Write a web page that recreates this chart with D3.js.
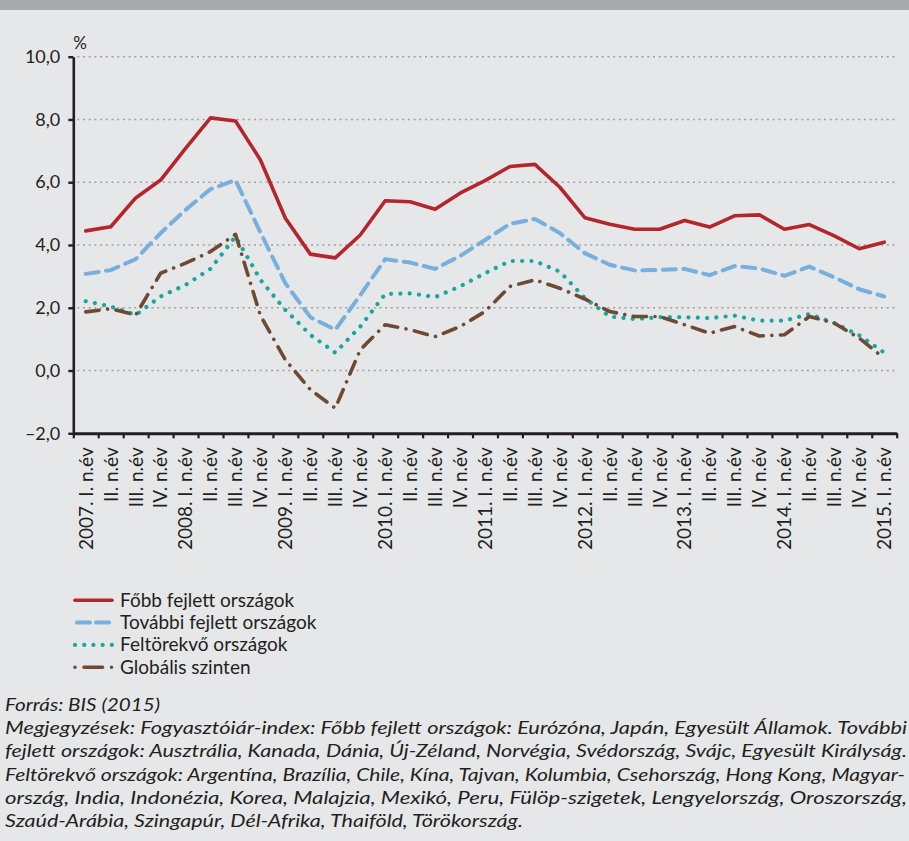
<!DOCTYPE html>
<html>
<head>
<meta charset="utf-8">
<script src="https://cdn.jsdelivr.net/npm/d3@7"></script>
<style>
    body { margin: 0; background: #e6e7e8; }
    svg { display: block; font-family: Lato, "Open Sans", sans-serif; }
</style>
</head>
<body>
<svg id="root" width="909" height="841"></svg>
<script>
const categories = [
    "2007. I. n.év", "II. n.év", "III. n.év", "IV. n.év",
    "2008. I. n.év", "II. n.év ", "III. n.év ", "IV. n.év ",
    "2009. I. n.év", "II. n.év  ", "III. n.év  ", "IV. n.év  ",
    "2010. I. n.év", "II. n.év   ", "III. n.év   ", "IV. n.év   ",
    "2011. I. n.év", "II. n.év    ", "III. n.év    ", "IV. n.év    ",
    "2012. I. n.év", "II. n.év     ", "III. n.év     ", "IV. n.év     ",
    "2013. I. n.év", "II. n.év      ", "III. n.év      ", "IV. n.év      ",
    "2014. I. n.év", "II. n.év       ", "III. n.év       ", "IV. n.év       ",
    "2015. I. n.év",
];

// Főbb fejlett országok
const major = [4.45, 4.58, 5.5, 6.07, 7.08, 8.05, 7.95, 6.71, 4.85, 3.71, 3.59,
    4.32, 5.41, 5.38, 5.14, 5.65, 6.05, 6.5, 6.57, 5.84, 4.87,
    4.66, 4.5, 4.5, 4.78, 4.57, 4.93, 4.96, 4.5, 4.65, 4.29, 3.88, 4.09];
// További fejlett országok
const otherAdv = [3.08, 3.2, 3.55, 4.38, 5.12, 5.78, 6.07, 4.4, 2.78, 1.7, 1.3,
    2.4, 3.55, 3.44, 3.24, 3.65, 4.16, 4.67, 4.83, 4.38, 3.74,
    3.37, 3.19, 3.21, 3.24, 3.04, 3.33, 3.25, 3.02, 3.31, 2.97, 2.59, 2.36];
// Feltörekvő országok
const emerging = [2.21, 2.04, 1.77, 2.36, 2.73, 3.24, 4.27, 2.89, 1.93, 1.14, 0.57,
    1.4, 2.44, 2.46, 2.34, 2.68, 3.1, 3.49, 3.49, 3.15, 2.31,
    1.72, 1.64, 1.7, 1.7, 1.67, 1.75, 1.59, 1.59, 1.8, 1.51, 1.12, 0.57];
// Globális szinten
const globalCpi = [1.87, 1.97, 1.77, 3.1, 3.42, 3.79, 4.34, 1.75, 0.34, -0.61, -1.2,
    0.66, 1.46, 1.3, 1.08, 1.4, 1.88, 2.68, 2.89, 2.62, 2.28,
    1.88, 1.72, 1.72, 1.46, 1.19, 1.4, 1.1, 1.14, 1.72, 1.51, 1.03, 0.39];

const yTicks = [-2, 0, 2, 4, 6, 8, 10];

const seriesNames = [
    "Főbb fejlett országok",
    "További fejlett országok",
    "Feltörekvő országok",
    "Globális szinten",
];

const notes = [
    "Forrás: BIS (2015)",
    "Megjegyzések: Fogyasztóiár-index: Főbb fejlett országok: Eurózóna, Japán, Egyesült Államok. További",
    "fejlett országok: Ausztrália, Kanada, Dánia, Új-Zéland, Norvégia, Svédország, Svájc, Egyesült Királyság.",
    "Feltörekvő országok: Argentína, Brazília, Chile, Kína, Tajvan, Kolumbia, Csehország, Hong Kong, Magyar-",
    "ország, India, Indonézia, Korea, Malajzia, Mexikó, Peru, Fülöp-szigetek, Lengyelország, Oroszország,",
    "Szaúd-Arábia, Szingapúr, Dél-Afrika, Thaiföld, Törökország.",
];
// widths the justified note lines are stretched to
const noteWidths = [155, 902, 902, 900, 902, 518];

const main = () => {
    const svg = d3.select("#root");
    const ink = "#231f20";

    const styles = [
        { color: "#b3262b", dash: null, width: 3.6, cap: "round" },
        { color: "#77afdd", dash: "13 7.5", width: 4, cap: "round" },
        { color: "#17a79d", dash: "0.01 9.3", width: 4.2, cap: "round" },
        { color: "#6e4a32", dash: "13.5 8.5 0.01 8.5", width: 3.6, cap: "round" },
    ];
    const allSeries = [major, otherAdv, emerging, globalCpi];

    // top band
    svg.append("rect")
        .attr("x", 0).attr("y", 0)
        .attr("width", 909).attr("height", 10)
        .attr("fill", "#a7a9ac");

    const plot = { left: 73.3, right: 896.7, top: 56.7, bottom: 433.3 };

    const x = d3.scaleBand()
        .domain(categories)
        .range([plot.left, plot.right]);
    const xIdx = d3.scaleLinear()
        .domain([0, categories.length])
        .range([plot.left, plot.right]);
    const y = d3.scaleLinear()
        .domain([-2, 10])
        .range([plot.bottom, plot.top]);

    // grid
    svg.append("g")
        .selectAll("line")
        .data(yTicks.filter((t) => t > -2))
        .join("line")
        .attr("x1", plot.left + 4)
        .attr("x2", plot.right)
        .attr("y1", (d) => y(d))
        .attr("y2", (d) => y(d))
        .attr("stroke", "#9d9fa2")
        .attr("stroke-width", 1.6)
        .attr("stroke-dasharray", "2 3.7");

    // lines
    const line = d3.line()
        .x((d, i) => x(categories[i]) + x.bandwidth() / 2)
        .y((d) => y(d));

    svg.append("g")
        .selectAll("path")
        .data(allSeries)
        .join("path")
        .attr("d", (d) => line(d))
        .attr("fill", "none")
        .attr("stroke", (d, i) => styles[i].color)
        .attr("stroke-width", (d, i) => styles[i].width)
        .attr("stroke-dasharray", (d, i) => styles[i].dash)
        .attr("stroke-linecap", (d, i) => styles[i].cap)
        .attr("stroke-linejoin", "round");

    // y axis
    const yAxis = d3.axisLeft(y)
        .tickValues(yTicks)
        .tickSize(5)
        .tickSizeOuter(0)
        .tickPadding(8)
        .tickFormat((d) => d3.format(".1f")(d).replace(".", ",").replace("−", "–"));

    svg.append("g")
        .attr("transform", `translate(${plot.left}, 0)`)
        .call(yAxis)
        .call((g) => g.select(".domain").attr("stroke", ink).attr("stroke-width", 2.6))
        .call((g) => g.selectAll(".tick line").attr("stroke", ink).attr("stroke-width", 2.4))
        .call((g) => g.selectAll("text")
            .attr("fill", ink)
            .style("font-size", "18px")
            .style("font-family", "Lato"));

    svg.append("text")
        .attr("x", plot.left)
        .attr("y", 49)
        .attr("fill", ink)
        .style("font-size", "17px")
        .text("%");

    // x axis: ticks on band edges
    svg.append("g")
        .attr("transform", `translate(0, ${plot.bottom})`)
        .call(d3.axisBottom(xIdx)
            .tickValues(d3.range(categories.length + 1))
            .tickSize(5)
            .tickSizeOuter(0)
            .tickFormat(() => ""))
        .call((g) => g.select(".domain").attr("stroke", ink).attr("stroke-width", 3))
        .call((g) => g.selectAll(".tick line").attr("stroke", ink).attr("stroke-width", 2.2));

    svg.append("g")
        .attr("transform", `translate(0, ${plot.bottom})`)
        .call(d3.axisBottom(x).tickSize(0).tickFormat((d) => d.trim()))
        .call((g) => g.select(".domain").remove())
        .call((g) =>
            g.selectAll("text")
                .attr("transform", "rotate(-90)")
                .style("text-anchor", "end")
                .attr("x", -14)
                .attr("y", 0)
                .attr("dy", "0.36em")
                .attr("fill", ink)
                .style("font-size", "19px")
                .style("font-family", "Lato")
        );

    // legend
    const legend = svg.append("g");
    const rows = legend.selectAll("g")
        .data(seriesNames)
        .join("g")
        .attr("transform", (d, i) => `translate(75, ${600.3 + i * 22.3})`);

    rows.append("line")
        .attr("x1", (d, i) => (i == 1 ? 2 : 0))
        .attr("x2", 37)
        .attr("stroke", (d, i) => styles[i].color)
        .attr("stroke-width", (d, i) => styles[i].width)
        .attr("stroke-dasharray", (d, i) => (i == 0 ? null : i == 1 ? "13 6" : i == 2 ? "0.01 9.2" : "0.01 9 18.5 9"))
        .attr("stroke-linecap", (d, i) => styles[i].cap);

    rows.append("text")
        .attr("x", 45)
        .attr("y", 6.5)
        .attr("fill", ink)
        .style("font-size", "19px")
        .text((d) => d);

    // notes
    svg.append("g")
        .selectAll("text")
        .data(notes)
        .join("text")
        .attr("x", 5)
        .attr("y", (d, i) => 711 + i * 23.2)
        .attr("fill", ink)
        .style("font-size", "18px")
        .style("font-style", "italic")
        .attr("textLength", (d, i) => noteWidths[i])
        .attr("lengthAdjust", "spacingAndGlyphs")
        .text((d) => d);
};

main();
</script>
</body>
</html>
